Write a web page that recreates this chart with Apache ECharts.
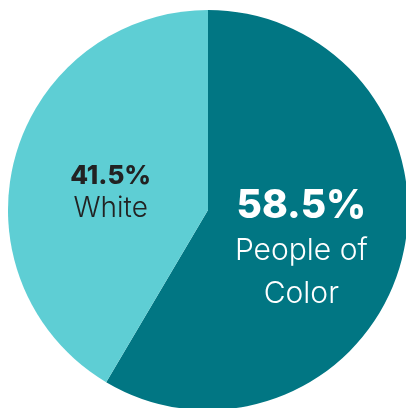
<!DOCTYPE html>
<html><head><meta charset="utf-8">
<script src="https://cdn.jsdelivr.net/npm/echarts@6/dist/echarts.min.js"></script>
<style>html,body{margin:0;padding:0;background:#fff}#c{width:406px;height:408px}</style>
</head><body><div id="c"></div>
<script>
const categories = ['People of Color', 'White'];
const values = [58.5, 41.5];
const pctLabels = ['58.5%', '41.5%'];
const nameLabels = ['People of\nColor', 'White'];
const colors = ['#017683', '#5ECED4'];

const chart = echarts.init(document.getElementById('c'), null, {renderer: 'canvas'});
const FONT = 'Inter';
const data = categories.map((c, i) => {
  const isBig = i === 0;
  const txtColor = isBig ? '#ffffff' : '#222222';
  return {
    name: c,
    value: values[i],
    itemStyle: {color: colors[i]},
    label: {
      offset: isBig ? [-6, 12] : [2, 10],
      formatter: () => '{p|' + pctLabels[i] + '}\n' + nameLabels[i].split('\n').map(s => '{n|' + s + '}').join('\n'),
      rich: {
        p: {fontFamily: FONT, fontWeight: 800, fontSize: isBig ? 39 : 26, color: txtColor, lineHeight: isBig ? 46 : 32, align: 'center'},
        n: {fontFamily: FONT, fontWeight: 300, fontSize: isBig ? 30 : 28, color: txtColor, lineHeight: isBig ? 43 : 33, align: 'center'}
      }
    }
  };
});
chart.setOption({
  animation: false,
  series: [{
    type: 'pie',
    center: ['51.23%', '51.47%'],
    radius: 200,
    startAngle: 90,
    clockwise: true,
    label: {show: true, position: 'inside'},
    labelLine: {show: false},
    emphasis: {disabled: true},
    data: data
  }]
});
</script></body></html>
